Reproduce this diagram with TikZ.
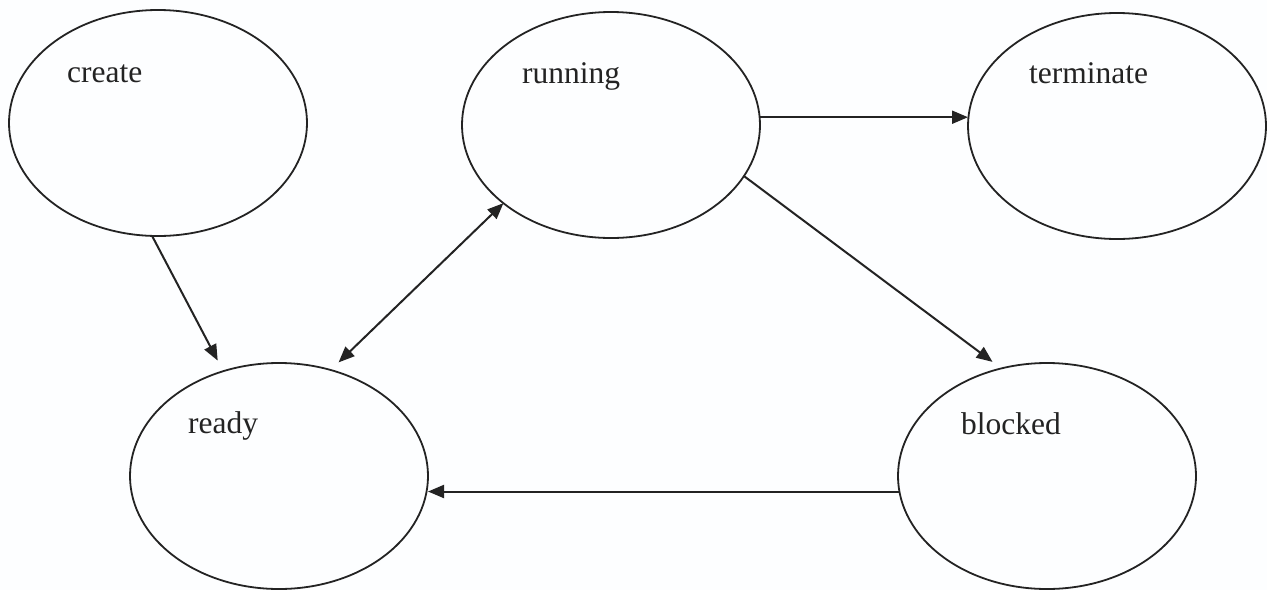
\documentclass[tikz,border=0pt]{standalone}
\usepackage{fontspec}
\setmainfont{Liberation Serif}
\usetikzlibrary{arrows.meta,shapes.geometric}
\definecolor{ink}{RGB}{35,35,35}
\definecolor{paper}{RGB}{253,254,255}
\begin{document}
\begin{tikzpicture}[x=1pt,y=-1pt,
  state/.style={ellipse, draw=ink, line width=1.8pt, minimum width=298pt, minimum height=226pt, inner sep=0pt, outer sep=0pt},
  lbl/.style={anchor=base west, text=ink, font=\fontsize{31.5}{36}\selectfont, inner sep=0pt},
  arr/.style={draw=ink, line width=2pt, -{Triangle[length=16pt,width=13pt]}},
  darr/.style={draw=ink, line width=2pt, {Triangle[length=16pt,width=13pt]}-{Triangle[length=16pt,width=13pt]}}
]
\fill[paper] (0,0) rectangle (1267,590);
\useasboundingbox (0,0) rectangle (1267,590);
\node[state] (create) at (158,123) {};
\node[state] (running) at (611,125) {};
\node[state] (terminate) at (1117,126) {};
\node[state] (ready) at (279,476) {};
\node[state] (blocked) at (1047,476) {};
\node[lbl] (createlbl) at (67,82) {create};
\node[lbl] (runninglbl) at (522,83) {running};
\node[lbl] (terminatelbl) at (1029,83) {terminate};
\node[lbl] (readylbl) at (188,433) {ready};
\node[lbl] (blockedlbl) at (961,434) {blocked};
\draw[arr, shorten >=12pt] (create.-93) -- (ready.118);
\draw[darr, shorten >=11pt] (running.216) -- (ready.64);
\draw[arr] (running.3) -- (running.3 -| terminate.west);
\draw[arr, shorten >=11pt] (running.-21.4) -- (blocked.113.5);
\draw[arr] (blocked.186) -- (blocked.186 -| ready.east);
\end{tikzpicture}
\end{document}
